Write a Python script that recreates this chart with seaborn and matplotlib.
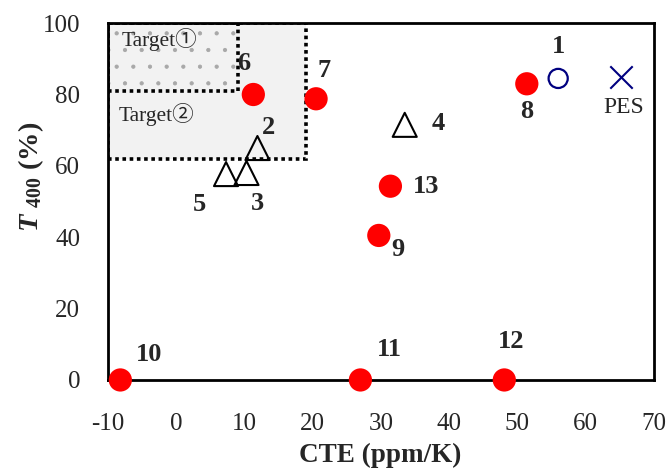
import matplotlib
matplotlib.use("Agg")
import matplotlib.pyplot as plt
import seaborn as sns
import pandas as pd
from matplotlib.patches import Rectangle

# ---- data ----
red_labels = ["6", "7", "8", "13", "9", "10", "11", "12"]
red_x = [11.3, 20.5, 51.4, 31.4, 29.7, -8.2, 27.0, 48.1]
red_y = [80.0, 78.8, 83.0, 54.3, 40.5, 0.0, 0.0, 0.0]

tri_labels = ["2", "3", "4", "5"]
tri_x = [11.9, 10.3, 33.5, 7.3]
tri_y = [65.0, 58.0, 71.5, 57.7]

circ_labels = ["1"]
circ_x = [56.0]
circ_y = [84.5]

pes_labels = ["PES"]
pes_x = [65.2]
pes_y = [85.0]

target1 = dict(x0=-10, x1=9, y0=81, y1=100, label="Target①")
target2 = dict(x0=-10, x1=19, y0=62, y1=100, label="Target②")

x_ticks = [-10, 0, 10, 20, 30, 40, 50, 60, 70]
y_ticks = [0, 20, 40, 60, 80, 100]

# label offsets in points (style)
label_off = {
    "6": (-7, 22), "7": (6, 20), "8": (0, -20), "13": (26, 0), "9": (14, -10),
    "10": (21, 18), "11": (21, 22), "12": (5, 28),
    "2": (8, 15), "3": (8, -22), "4": (24, 1), "5": (-19, -22),
    "1": (0, 23), "PES": (2, -22),
}

sns.set_theme(style="white")
plt.rcParams["font.family"] = ["Liberation Serif", "Noto Sans CJK JP", "DejaVu Sans"]
plt.rcParams["mathtext.fontset"] = "custom"
plt.rcParams["mathtext.rm"] = "Liberation Serif"
plt.rcParams["mathtext.bf"] = "Liberation Serif:bold"
plt.rcParams["mathtext.it"] = "Liberation Serif:italic"
plt.rcParams["mathtext.bfit"] = "Liberation Serif:bold:italic"
plt.rcParams["hatch.linewidth"] = 0.6

fig = plt.figure(figsize=(6.67, 4.72), dpi=100)
ax = fig.add_axes([0.162, 0.195, 0.818, 0.756])

# target regions
r2 = Rectangle((target2["x0"], target2["y0"]), target2["x1"] - target2["x0"],
               target2["y1"] - target2["y0"], facecolor="#f2f2f2", edgecolor="none", zorder=1)
ax.add_patch(r2)
r1 = Rectangle((target1["x0"], target1["y0"]), target1["x1"] - target1["x0"],
               target1["y1"] - target1["y0"], facecolor="#f2f2f2", edgecolor="#a8a8a8",
               linewidth=0, hatch=".", zorder=1.1)
ax.add_patch(r1)
for t in (target2, target1):
    ax.add_patch(Rectangle((t["x0"], t["y0"]), t["x1"] - t["x0"], t["y1"] - t["y0"],
                           fill=False, edgecolor="black", linewidth=2.6,
                           linestyle=(0, (1, 1)), zorder=1.5))
ax.text(-8.0, 95.5, target1["label"], fontsize=15.5, va="center", ha="left", zorder=2)
ax.text(-8.5, 74.5, target2["label"], fontsize=15.5, va="center", ha="left", zorder=2)

df_red = pd.DataFrame({"x": red_x, "y": red_y})
df_tri = pd.DataFrame({"x": tri_x, "y": tri_y})
df_circ = pd.DataFrame({"x": circ_x, "y": circ_y})
df_pes = pd.DataFrame({"x": pes_x, "y": pes_y})

sns.scatterplot(data=df_red, x="x", y="y", ax=ax, marker="o", s=280, color="#ff0000",
                edgecolor="none", zorder=4, clip_on=False)
sns.scatterplot(data=df_tri, x="x", y="y", ax=ax, marker="^", s=300, facecolor="none",
                edgecolor="black", linewidth=1.5, zorder=4)
sns.scatterplot(data=df_circ, x="x", y="y", ax=ax, marker="o", s=190, facecolor="none",
                edgecolor="#000080", linewidth=1.6, zorder=4)
sns.scatterplot(data=df_pes, x="x", y="y", ax=ax, marker="x", s=260, color="#000080",
                linewidth=1.5, zorder=4)

for labs, xs, ys in [(red_labels, red_x, red_y), (tri_labels, tri_x, tri_y),
                     (circ_labels, circ_x, circ_y)]:
    for l, xv, yv in zip(labs, xs, ys):
        ax.annotate(l, (xv, yv), xytext=label_off[l], textcoords="offset points",
                    ha="center", va="center", fontsize=19, fontweight="bold", zorder=5)
for l, xv, yv in zip(pes_labels, pes_x, pes_y):
    ax.annotate(l, (xv, yv), xytext=label_off[l], textcoords="offset points",
                ha="center", va="center", fontsize=17, zorder=5)

ax.set_xlim(-10, 70)
ax.set_ylim(0, 100)
ax.set_xticks(x_ticks)
ax.set_yticks(y_ticks)
ax.set_xticklabels([str(v) for v in x_ticks])
ax.set_yticklabels([str(v) for v in y_ticks])
ax.tick_params(direction="in", length=5, width=1.5, labelsize=18)
ax.tick_params(axis="y", pad=20)
ax.tick_params(axis="x", pad=24)
for sp in ax.spines.values():
    sp.set_visible(True)
    sp.set_color("black")
    sp.set_linewidth(2)

ax.set_xlabel("CTE (ppm/K)", fontsize=19.5, fontweight="bold")
ax.xaxis.set_label_coords(0.498, -0.175)
ax.set_ylabel(r"$\mathbfit{T}$ $_{\mathbf{400}}$ (%)", fontsize=20.5, fontweight="bold")
ax.yaxis.set_label_coords(-0.113, 0.57)

fig.savefig("out.png", dpi=100)
